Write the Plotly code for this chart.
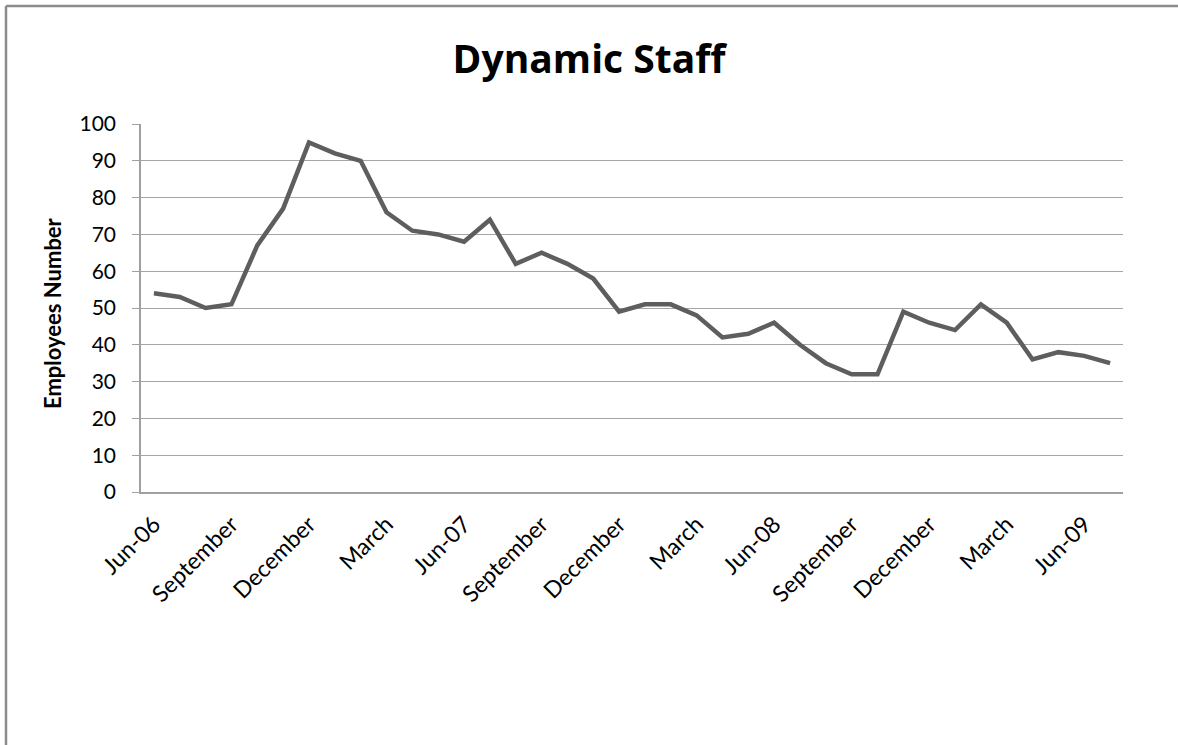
import plotly.graph_objects as go

months = ["Jun-06","Jul-06","Aug-06","Sep-06","Oct-06","Nov-06","Dec-06","Jan-07","Feb-07","Mar-07",
          "Apr-07","May-07","Jun-07","Jul-07","Aug-07","Sep-07","Oct-07","Nov-07","Dec-07","Jan-08",
          "Feb-08","Mar-08","Apr-08","May-08","Jun-08","Jul-08","Aug-08","Sep-08","Oct-08","Nov-08",
          "Dec-08","Jan-09","Feb-09","Mar-09","Apr-09","May-09","Jun-09","Jul-09"]
employees = [54,53,50,51,67,77,95,92,90,76,71,70,68,74,62,65,62,58,49,51,
             51,48,42,43,46,40,35,32,32,49,46,44,51,46,36,38,37,35]
tick_labels = ["Jun-06","September","December","March","Jun-07","September","December",
               "March","Jun-08","September","December","March","Jun-09"]
y_ticks = [0,10,20,30,40,50,60,70,80,90,100]

W, H = 1178, 745
L, R, T, B = 141, 1123, 124, 492

fig = go.Figure()
fig.add_trace(go.Scatter(x=months, y=employees, mode="lines",
                         line=dict(color="#5e5e5e", width=4.5), showlegend=False,
                         hoverinfo="skip"))

font_family = "Lato, 'Open Sans', sans-serif"

def px_x(p):
    return (p - L) / (R - L)

def px_y(p):
    return (B - p) / (B - T)

border = dict(color="#8c8c8c", width=2.5)
fig.update_layout(
    width=W, height=H,
    margin=dict(l=L, r=W - R, t=T, b=H - B),
    paper_bgcolor="white", plot_bgcolor="white",
    font=dict(family=font_family, color="black"),
    title=dict(text="<b>Dynamic Staff</b>", x=0.5, xref="container", xanchor="center",
               y=1 - 59 / H, yref="container", yanchor="middle",
               font=dict(family="'Open Sans', sans-serif", size=39, color="black")),
    xaxis=dict(type="category", range=[-0.5, len(months) - 0.5],
               tickmode="array", tickvals=months[::3], ticktext=tick_labels,
               tickangle=-45, tickfont=dict(size=23, family=font_family, color="black"),
               ticklabelstandoff=8,
               showgrid=False, showline=True, linecolor="#a0a0a0", linewidth=1.5,
               ticks="", zeroline=False),
    yaxis=dict(range=[0, 100], tickmode="array", tickvals=y_ticks,
               tickfont=dict(size=21, family=font_family, color="black"),
               showgrid=True, gridcolor="#a6a6a6", gridwidth=1.3,
               showline=True, linecolor="#a0a0a0", linewidth=1.5,
               ticks="outside", ticklen=7, tickcolor="#a0a0a0", tickwidth=1.3,
               ticklabelstandoff=12, zeroline=False),
    annotations=[dict(text="<b>Employees Number</b>", textangle=-90,
                      x=px_x(52), y=px_y(313),
                      xref="paper", yref="paper", xanchor="center", yanchor="middle",
                      showarrow=False, font=dict(size=22, family=font_family, color="black"))],
    shapes=[
        dict(type="line", xref="paper", yref="paper",
             x0=px_x(6), x1=px_x(W), y0=px_y(6), y1=px_y(6), line=border, layer="below"),
        dict(type="line", xref="paper", yref="paper",
             x0=px_x(6), x1=px_x(6), y0=px_y(6), y1=px_y(H), line=border, layer="below"),
    ],
)

fig.write_html(
    "out.html",
    post_script="document.documentElement.style.overflow='hidden';"
                "document.body.style.overflow='hidden';document.body.style.margin='0';",
)
